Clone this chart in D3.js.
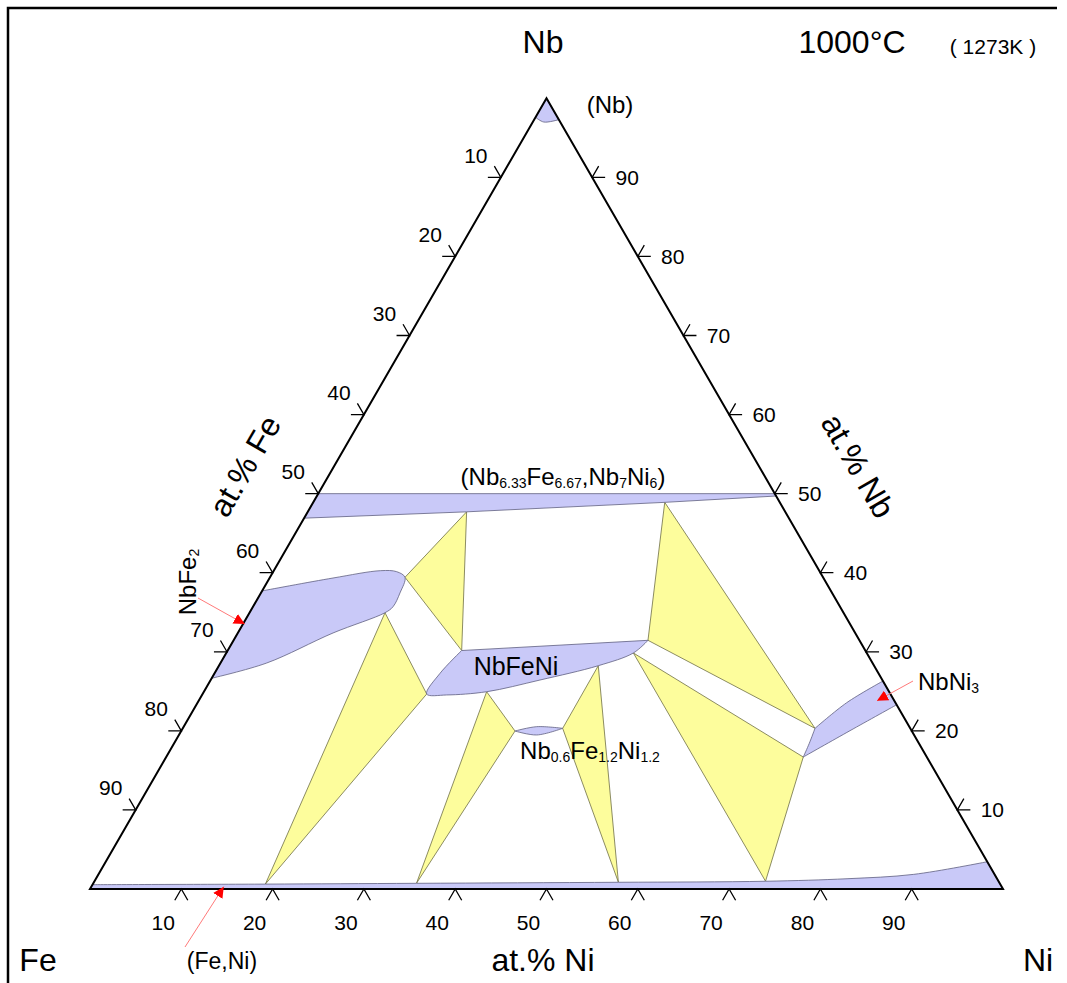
<!DOCTYPE html>
<html>
<head>
<meta charset="utf-8">
<script src="https://cdn.jsdelivr.net/npm/d3@7"></script>
<style>
body{margin:0;background:#fff}
svg{display:block}
text{font-family:Arial,"Liberation Sans",sans-serif;fill:#000}
</style>
</head>
<body>
<svg id="myGraph" width="1067" height="983"></svg>
<script>
// compositions are [Ni at.%, Nb at.%], Fe is the balance
var tickValues = [10, 20, 30, 40, 50, 60, 70, 80, 90];

// single phase regions (boundaries)
var capNb      = [[0, 97.6], [1.2, 97.0], [2.7, 97.3]];
var muTop      = [[0, 50], [50, 50]];
var muBottom   = [[50.3, 49.7], [38.5, 48.9], [17.4, 47.7], [0, 46.9]];
var laves      = [[0, 37.7], [6.95, 39.33], [11.71, 40.26], [13.53, 40.13], [14.79, 39.42], [15.23, 37.44],
                  [15.34, 35.7], [14.84, 34.94], [10.43, 32.38], [5.06, 28.58], [0, 26.65]];
var nbfeniTop  = [[25.63, 30.16], [45.39, 31.45]];
var nbfeniRest = [[45.39, 31.45], [44.59, 29.85], [41.55, 28.24], [36.07, 26.43], [30.97, 24.95],
                  [26.8, 24.54], [24.55, 24.66], [24.7, 27.28], [25.63, 30.16]];
var lensTop    = [[36.56, 19.98], [38.66, 20.53], [41.61, 20.32]];
var lensBottom = [[41.61, 20.32], [39.19, 19.48], [36.56, 19.98]];
var ni3Top     = [[69.25, 20.32], [71.1, 23.56], [73.7, 26.3]];
var ni3Bottom  = [[76.7, 23.3], [73.23, 20.02], [69.78, 16.69]];
var ni3Side    = [[69.78, 16.69], [69.57, 18.43], [69.25, 20.32]];
var fccTop     = [[0, 0.55], [18.9, 0.62], [35.4, 0.72], [57.45, 0.85], [73.5, 0.98], [82.27, 1.3], [89.29, 1.85], [96.55, 3.45]];
var fccBase    = [[100, 0], [0, 0]];

// three phase tie triangles
var tieTriangles = [
    [[14.79, 39.42], [17.4, 47.7], [25.63, 30.16]],
    [[14.84, 34.94], [24.55, 24.66], [18.9, 0.62]],
    [[30.97, 24.95], [36.56, 19.98], [35.4, 0.72]],
    [[41.55, 28.24], [41.61, 20.32], [57.45, 0.85]],
    [[44.59, 29.85], [69.78, 16.69], [73.5, 0.98]],
    [[38.5, 48.9], [45.39, 31.45], [69.25, 20.32]]
];

// arrow tips of the labelled phases
var pointerTips = [[0.2, 33.5], [74.3, 23.8], [14.5, 0.3]];

var svg = d3.select("#myGraph");

var x = d3.scaleLinear().domain([0, 100]).range([90, 1003]);
var y = d3.scaleLinear().domain([0, 100]).range([889, 98.3]);
function proj(c){ return [x(c[0] + c[1] / 2), y(c[1])]; }

var smooth = d3.line().curve(d3.curveCatmullRom.alpha(0.5));
var straight = d3.line();

function phasePath(segs){
    var d = "";
    segs.forEach(function(s, i){
        var pts = s.p.map(proj);
        if(s.c){
            var part = smooth(pts);
            d += (i > 0 ? "L" + part.slice(1) : part);
        } else {
            pts.forEach(function(p, j){
                d += (i === 0 && j === 0 ? "M" : "L") + p[0] + "," + p[1];
            });
        }
    });
    return d + "Z";
}

var phases = [
    [{p: capNb, c: 1}, {p: [[0, 100]], c: 0}],
    [{p: muTop.concat(muBottom), c: 0}],
    [{p: laves, c: 1}],
    [{p: nbfeniTop, c: 0}, {p: nbfeniRest, c: 1}],
    [{p: lensTop, c: 1}, {p: lensBottom, c: 1}],
    [{p: ni3Top, c: 1}, {p: [[76.7, 23.3]], c: 0}, {p: ni3Bottom, c: 1}, {p: ni3Side, c: 1}],
    [{p: fccTop, c: 1}, {p: fccBase, c: 0}]
];

// frame
svg.append("path")
    .attr("d", "M8,983L8,8L1057,8")
    .attr("fill", "none").attr("stroke", "#000").attr("stroke-width", 2.5);

// tie triangles
svg.append("g").selectAll("path")
    .data(tieTriangles)
    .enter().append("path")
    .attr("d", function(d){ return straight(d.map(proj)) + "Z"; })
    .attr("fill", "#fdfd9c")
    .attr("stroke", "#6e6e45")
    .attr("stroke-width", 0.8);

// single phase regions
svg.append("g").selectAll("path")
    .data(phases)
    .enter().append("path")
    .attr("d", phasePath)
    .attr("fill", "#c9c9f8")
    .attr("stroke", "#5f5f80")
    .attr("stroke-width", 0.8);

// outer triangle
svg.append("path")
    .attr("d", straight([[0, 0], [100, 0], [0, 100]].map(proj)) + "Z")
    .attr("fill", "none").attr("stroke", "#000").attr("stroke-width", 2)
    .attr("stroke-linejoin", "miter");

// ticks
var L = 13, s = Math.sqrt(3) / 2;
var tg = svg.append("g");
function tickSet(pos, arm1, arm2, off){
    tg.selectAll(null).data(tickValues).enter().append("path")
        .attr("d", function(v){
            var p = proj(pos(v));
            return "M" + (p[0] + arm1[0] * L) + "," + (p[1] + arm1[1] * L) + "L" + p[0] + "," + p[1] +
                   "L" + (p[0] + arm2[0] * L) + "," + (p[1] + arm2[1] * L);
        })
        .attr("fill", "none").attr("stroke", "#000").attr("stroke-width", 1.3);
    tg.selectAll(null).data(tickValues).enter().append("text")
        .attr("x", function(v){ return proj(pos(v))[0] + off[0]; })
        .attr("y", function(v){ return proj(pos(v))[1] + off[1]; })
        .attr("text-anchor", "middle")
        .attr("dominant-baseline", "central")
        .attr("font-size", 21)
        .text(function(v){ return v; });
}
tickSet(function(v){ return [v, 0]; }, [-0.5, s], [0.5, s], [-18, 33]);          // at.% Ni
tickSet(function(v){ return [100 - v, v]; }, [1, 0], [0.5, -s], [35, 0]);          // at.% Nb
tickSet(function(v){ return [0, 100 - v]; }, [-1, 0], [-0.5, -s], [-25, -22]);     // at.% Fe

// labels
function label(txt, px, py, size, rot, anchor){
    var t = svg.append("text")
        .attr("x", px).attr("y", py)
        .attr("text-anchor", anchor || "middle")
        .attr("dominant-baseline", "central")
        .attr("font-size", size)
        .text(txt);
    if(rot) t.attr("transform", "rotate(" + rot + "," + px + "," + py + ")");
    return t;
}
label("Nb", 543, 42, 32);
label("Fe", 38, 960, 32);
label("Ni", 1038, 960, 32);
label("1000°C", 852, 42, 32);
label("( 1273K )", 993, 46, 21);
label("at.% Ni", 543, 960, 32);
label("at.% Fe", 245, 466, 32, -60);
label("at.% Nb", 858, 466, 32, 60);
label("(Nb)", 610, 104, 24);
label("NbFeNi", 516, 666, 25);
label("(Fe,Ni)", 222, 961, 23);

// formulas with subscripts
function formula(parts, px, py, size, sub, rot, anchor){
    var t = svg.append("text")
        .attr("x", px).attr("y", py)
        .attr("text-anchor", anchor || "middle")
        .attr("dominant-baseline", "central")
        .attr("font-size", size);
    var low = false;
    parts.forEach(function(p){
        var isSub = p[1] === 1;
        var ts = t.append("tspan").text(p[0]);
        if(isSub){ ts.attr("font-size", sub); if(!low) ts.attr("dy", size * 0.28); low = true; }
        else if(low){ ts.attr("dy", -size * 0.28); low = false; }
    });
    if(rot) t.attr("transform", "rotate(" + rot + "," + px + "," + py + ")");
}
formula([["(Nb", 0], ["6.33", 1], ["Fe", 0], ["6.67", 1], [",Nb", 0], ["7", 1], ["Ni", 0], ["6", 1], [")", 0]], 563, 476, 24, 14);
formula([["Nb", 0], ["0.6", 1], ["Fe", 0], ["1.2", 1], ["Ni", 0], ["1.2", 1]], 590, 750, 24, 14);
formula([["NbFe", 0], ["2", 1]], 187, 582, 24, 14, -90);
formula([["NbNi", 0], ["3", 1]], 918, 681, 24, 14, 0, "start");

// red pointers
svg.append("defs").append("marker")
    .attr("id", "arr").attr("viewBox", "0 0 10 10")
    .attr("refX", 10).attr("refY", 5)
    .attr("markerWidth", 11).attr("markerHeight", 11)
    .attr("markerUnits", "userSpaceOnUse")
    .attr("orient", "auto")
    .append("path").attr("d", "M0,0L10,5L0,10Z").attr("fill", "#ff0000");

var tails = [[198, 598], [913, 681], [185, 947]];
svg.append("g").selectAll("line")
    .data(pointerTips)
    .enter().append("line")
    .attr("x1", function(d, i){ return tails[i][0]; })
    .attr("y1", function(d, i){ return tails[i][1]; })
    .attr("x2", function(d){ return proj(d)[0]; })
    .attr("y2", function(d){ return proj(d)[1]; })
    .attr("stroke", "#ff7a7a").attr("stroke-width", 1)
    .attr("marker-end", "url(#arr)");
</script>
</body>
</html>
